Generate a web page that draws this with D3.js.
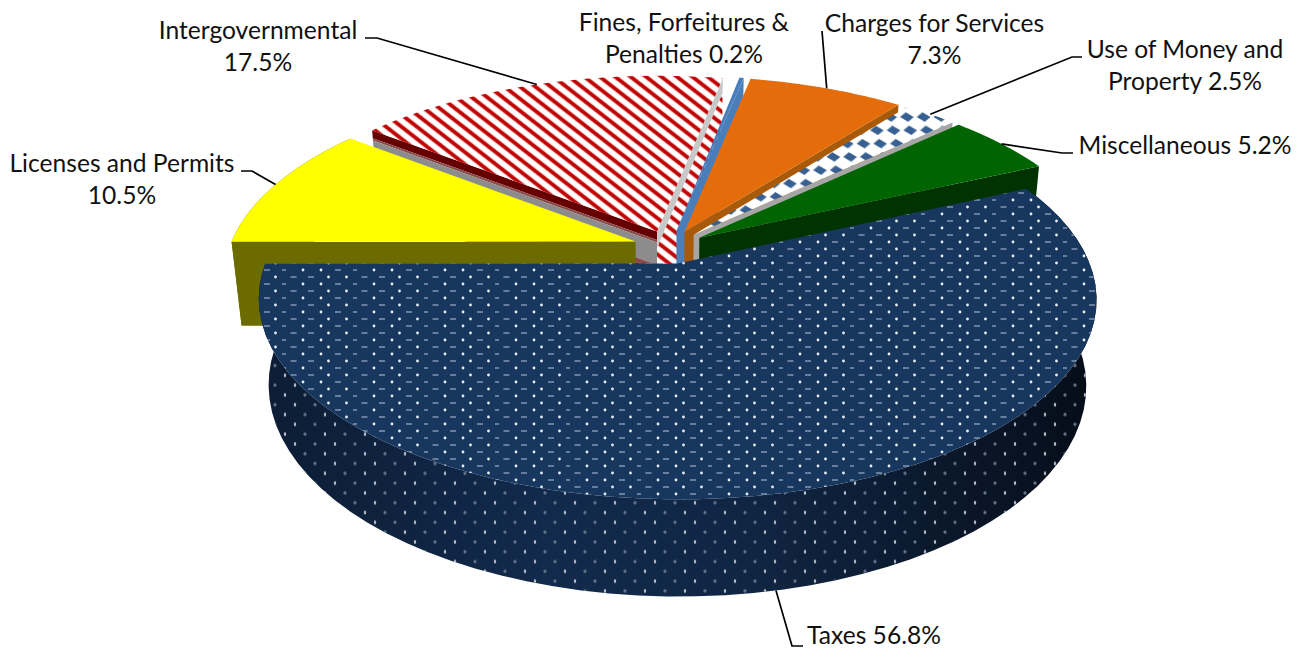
<!DOCTYPE html>
<html>
<head>
<meta charset="utf-8">
<style>
  html, body { margin: 0; padding: 0; background: #fff; overflow: hidden; }
  text { font-family: Lato, "Open Sans", sans-serif; font-size: 24.6px; fill: #111; }
</style>
<script src="https://cdn.jsdelivr.net/npm/d3@7"></script>
</head>
<body>
<div id="chart"></div>
<script>
const categories = ["Taxes", "Licenses and Permits", "Intergovernmental", "Fines, Forfeitures & Penalties", "Charges for Services", "Use of Money and Property", "Miscellaneous"];
const values = [56.8, 10.5, 17.5, 0.2, 7.3, 2.5, 5.2];
const labelLines = [
  ["Taxes 56.8%"],
  ["Licenses and Permits", "10.5%"],
  ["Intergovernmental", "17.5%"],
  ["Fines, Forfeitures &", "Penalties 0.2%"],
  ["Charges for Services", "7.3%"],
  ["Use of Money and", "Property 2.5%"],
  ["Miscellaneous 5.2%"]
];
const topFills = ["url(#dots)", "#ffff00", "url(#stripes)", "#4a7ebb", "#e46c0a", "url(#checks)", "#006400"];
const drawOrder = [2, 3, 4, 5, 6, 1, 0];

const width = 1301, height = 648;
const rad = d => d * Math.PI / 180;

const svg = d3.select("#chart").append("svg").attr("width", width).attr("height", height);
const defs = svg.append("defs");

// navy with rows of white dots and grey dashes
const dots = defs.append("pattern").attr("id", "dots").attr("patternUnits", "userSpaceOnUse")
  .attr("width", 71).attr("height", 14).attr("patternTransform", "translate(0,2)");
dots.append("rect").attr("width", 71).attr("height", 14).attr("fill", "#17375e");
[[19, 2], [37, 2], [44.5, 9], [62.5, 9]].forEach(p => dots.append("circle").attr("cx", p[0]).attr("cy", p[1]).attr("r", 1.4).attr("fill", "#e8eef5"));
[[54, 2], [72, 2], [-1, 2], [9.5, 9], [27, 9]].forEach(p => dots.append("rect").attr("x", p[0] - 3).attr("y", p[1] - 0.9).attr("width", 6).attr("height", 1.8).attr("fill", "#6f86a3"));

const wallDots = defs.append("pattern").attr("id", "wallDots").attr("patternUnits", "userSpaceOnUse")
  .attr("width", 40).attr("height", 19.6);
[[5, 3], [15, 12.8]].forEach(p => wallDots.append("ellipse").attr("cx", p[0]).attr("cy", p[1]).attr("rx", 1.2).attr("ry", 2).attr("fill", "#b4bcc8"));
[[25, 3], [35, 12.8]].forEach(p => wallDots.append("ellipse").attr("cx", p[0]).attr("cy", p[1]).attr("rx", 1.6).attr("ry", 1.7).attr("fill", "#65758a"));

// red diagonal stripes
const stripes = defs.append("pattern").attr("id", "stripes").attr("patternUnits", "userSpaceOnUse")
  .attr("width", 9.5).attr("height", 9.5).attr("patternTransform", "rotate(38)");
stripes.append("rect").attr("width", 9.5).attr("height", 9.5).attr("fill", "#fff");
stripes.append("rect").attr("y", 2.4).attr("width", 9.5).attr("height", 4.6).attr("fill", "#e8a0a0");
stripes.append("rect").attr("y", 3).attr("width", 9.5).attr("height", 3.4).attr("fill", "#c00000");

// blue and white diamonds
const checks = defs.append("pattern").attr("id", "checks").attr("patternUnits", "userSpaceOnUse")
  .attr("width", 16.7).attr("height", 13.3).attr("patternTransform", "translate(2,4) skewX(14)");
checks.append("rect").attr("width", 16.7).attr("height", 13.3).attr("fill", "#fff");
checks.append("path")
  .attr("d", "M1.5,6.65L8.35,1.8L15.2,6.65L8.35,11.5Z")
  .attr("fill", "#376092");

const wallGrad = defs.append("linearGradient").attr("id", "wallGrad")
  .attr("gradientUnits", "userSpaceOnUse").attr("x1", 250).attr("x2", 1100).attr("y1", 0).attr("y2", 0);
[[0, "#0c1c33"], [0.35, "#122a4c"], [0.6, "#102542"], [0.85, "#0a1628"], [1, "#050c17"]].forEach(s =>
  wallGrad.append("stop").attr("offset", s[0]).attr("stop-color", s[1]));

// perspective projection of the pie plane, h=0 top face and h=1 bottom
const cx = 669.6, cy = 247, rx = 406, ry = 188, k = 0.175;
const vanishY = 3920, depth = 0.023, explode = 0.089;
const xScale = d3.scaleLinear().domain([-1, 1]).range([cx - rx, cx + rx]);
const yScale = d3.scaleLinear().domain([-1, 1]).range([cy - ry, cy + ry]);

function project(x, z, h) {
  const w = 1 / (1 - k * z);
  const sx = cx + (xScale(x) - cx) * w, sy = cy + (yScale(z) - cy) * w;
  const t = depth * w * h;
  return [sx + (cx - sx) * t, sy + (vanishY - sy) * t];
}

const arcs = d3.pie().sort(null).startAngle(rad(65.5)).endAngle(rad(65.5 + 360))(values);
const mid = a => (a.startAngle + a.endAngle) / 2;
const rimPoint = (a, ang, h) => {
  const m = mid(a);
  return project(Math.sin(ang) + Math.sin(m) * explode, -Math.cos(ang) - Math.cos(m) * explode, h);
};
const apex = (a, h) => {
  const m = mid(a);
  return project(Math.sin(m) * explode, -Math.cos(m) * explode, h);
};
const rim = (a, h) => d3.range(0, 61).map(i => rimPoint(a, a.startAngle + (a.endAngle - a.startAngle) * i / 60, h));
const line = d3.line();
const closed = pts => line(pts) + "Z";

// radial wall split in bands, each band = [h0, h1, fill]
const edgeWall = (ang, a, bands) => bands.forEach(b => {
  svg.append("path")
    .attr("d", closed([apex(a, b[0]), rimPoint(a, ang, b[0]), rimPoint(a, ang, b[1]), apex(a, b[1])]))
    .attr("fill", b[2]);
});

const startBands = [
  null,
  [[0, 1, "#6b6b00"]],
  [[0, 0.1, "#660000"], [0.1, 0.13, "#8a4a4a"], [0.13, 0.4, "#8c8c8c"], [0.4, 0.46, "#8a4a4a"], [0.46, 1, "#7a1010"]],
  null, null, null, null
];
const endBands = [
  null,
  null,
  [[0, 0.2, "#c8c8c8"], [0.2, 1, "url(#stripes)"]],
  [[0, 1, "#4a7ebb"]],
  [[0, 1, "#a85a08"]],
  [[0, 1, "#a6a6a6"]],
  [[0, 1, "#003300"]]
];
// only the two front slices show their curved side
const outerFills = ["url(#wallGrad)", "#6b6b00", null, null, null, null, null];

drawOrder.forEach(i => {
  const a = arcs[i];
  const wall = closed(rim(a, 0).concat(rim(a, 1).reverse()));
  if (outerFills[i]) svg.append("path").attr("d", wall).attr("fill", outerFills[i]);
  if (i === 0) svg.append("path").attr("d", wall).attr("fill", "url(#wallDots)");
  if (startBands[i]) edgeWall(a.startAngle, a, startBands[i]);
  if (endBands[i]) edgeWall(a.endAngle, a, endBands[i]);
  svg.append("path").attr("d", closed([apex(a, 0)].concat(rim(a, 0)))).attr("fill", topFills[i]);
});

// leader lines run from the slice rim to the label
const leaderBends = [
  [[792, 646], [803, 646]],
  [[252, 171], [241, 171]],
  [[377, 38], [365, 38]],
  null,
  [[822, 31]],
  [[1072, 57], [1082, 57]],
  [[1062, 153], [1073, 153]]
];
arcs.forEach((a, i) => {
  if (!leaderBends[i]) return;
  // the Taxes leader leaves the side wall, a little past the slice middle
  const from = i === 0 ? rimPoint(a, mid(a) + rad(0.7), 1) : rimPoint(a, mid(a), 0);
  svg.append("path").attr("d", line([from].concat(leaderBends[i])))
    .attr("fill", "none").attr("stroke", "#000").attr("stroke-width", 1.7);
});

// label anchors
const labelX = [874, 122, 258, 684, 934.5, 1185, 1185];
const labelY = [644, 172, 39, 31, 32, 58, 154];
labelLines.forEach((ls, i) => ls.forEach((t, j) => {
  svg.append("text").attr("x", labelX[i]).attr("y", labelY[i] + j * 32)
    .attr("text-anchor", "middle").text(t);
}));
</script>
</body>
</html>
